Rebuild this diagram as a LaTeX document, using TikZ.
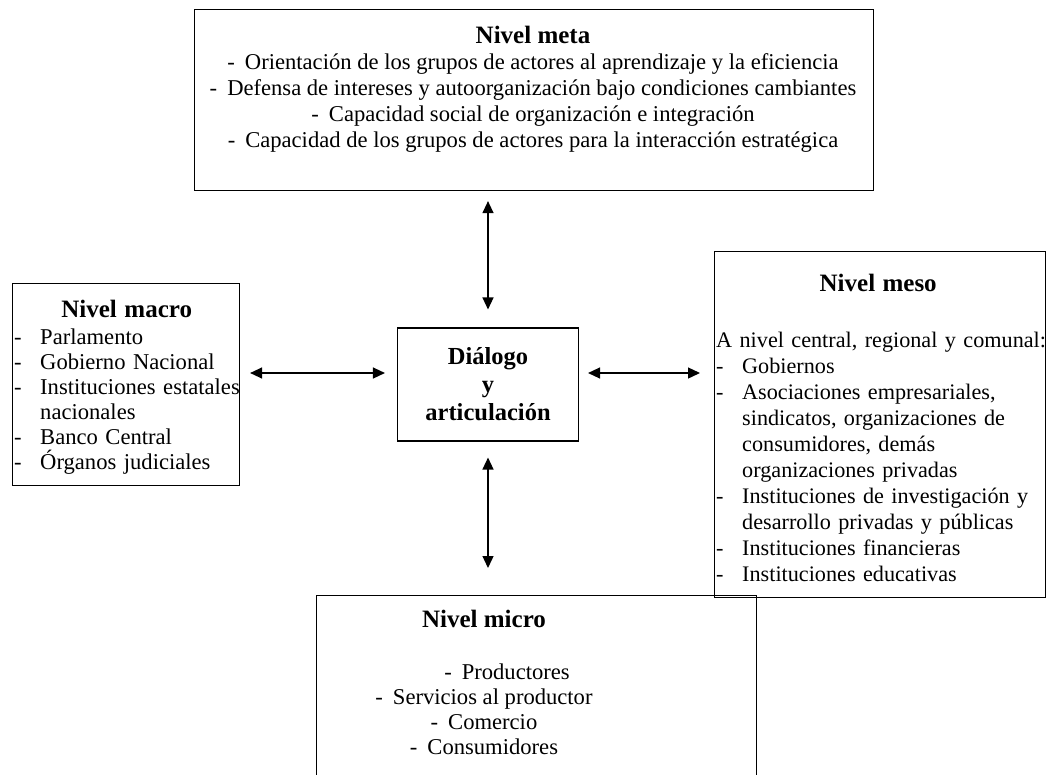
\documentclass[tikz,border=0pt]{standalone}
\usepackage{fontspec}
\setmainfont{Liberation Serif}
\usetikzlibrary{arrows.meta}

\newcommand{\titulo}[1]{{\fontsize{25}{26}\selectfont\bfseries #1}}
\newcommand{\guion}[1]{\makebox[26pt][l]{-}\mbox{#1}}
\newcommand{\sigue}[1]{\hspace*{26pt}\mbox{#1}}
\newcommand{\linea}[1]{-\hspace{10pt}#1}

\begin{document}
\begin{tikzpicture}[
    x=1pt, y=-1pt,
    box/.style={draw, line width=1.1pt, inner sep=0pt, anchor=north west},
    txt/.style={inner sep=0pt, font=\fontsize{22.6}{26}\selectfont},
    arrow/.style={{Triangle[length=12pt,width=11pt]}-{Triangle[length=12pt,width=11pt]}, line width=1.3pt}
]
\useasboundingbox (0,0) rectangle (1046,774);

% --- Blocks ---
\node[box, minimum width=679pt, minimum height=181pt] (meta) at (194,9) {};
\node[txt, anchor=north, align=center] (metatxt) at (533,26) {\titulo{Nivel meta}\\
\linea{Orientación de los grupos de actores al aprendizaje y la eficiencia}\\
\linea{Defensa de intereses y autoorganización bajo condiciones cambiantes}\\
\linea{Capacidad social de organización e integración}\\
\linea{Capacidad de los grupos de actores para la interacción estratégica}};

\node[box, minimum width=227pt, minimum height=202pt] (macro) at (12,283) {};
\node[txt, anchor=north west, text width=225pt, align=left,
      font=\fontsize{22.6}{25}\selectfont] (macrotxt) at (14,300) {\makebox[\hsize]{\titulo{Nivel macro}}\\[2pt]
\guion{Parlamento}\\
\guion{Gobierno Nacional}\\
\guion{Instituciones estatales}\\
\sigue{nacionales}\\
\guion{Banco Central}\\
\guion{Órganos judiciales}};

\node[draw, line width=1.1pt, minimum width=181pt, minimum height=113pt, align=center,
      font=\fontsize{24.5}{28}\selectfont\bfseries] (dial) at (488,384.5) {Diálogo\\ y\\ articulación};

\node[box, minimum width=331pt, minimum height=346pt] (meso) at (714,251) {};
\node[txt, anchor=north west, text width=324pt, align=left,
      font=\fontsize{22.2}{26}\selectfont] (mesotxt) at (716,274) {\makebox[\hsize]{\titulo{Nivel meso}}\\[30pt]
\mbox{A nivel central, regional y comunal:}\\
\guion{Gobiernos}\\
\guion{Asociaciones empresariales,}\\
\sigue{sindicatos, organizaciones de}\\
\sigue{consumidores, demás}\\
\sigue{organizaciones privadas}\\
\guion{Instituciones de investigación y}\\
\sigue{desarrollo privadas y públicas}\\
\guion{Instituciones financieras}\\
\guion{Instituciones educativas}};

\node[box, minimum width=440pt, minimum height=220pt] (micro) at (316,595) {};
\node[txt, anchor=north, align=center,
      font=\fontsize{22.6}{25}\selectfont] (microtxt) at (484,610) {\titulo{Nivel micro}\\[27pt]
\hspace*{46pt}\linea{Productores}\\
\linea{Servicios al productor}\\
\linea{Comercio}\\
\linea{Consumidores}};

% --- Arrows ---
\coordinate (fila) at ([yshift=11.5pt]dial.west);
\draw[arrow, shorten <=10pt, shorten >=18pt] (dial.north |- meta.south) -- (dial.north);
\draw[arrow, shorten <=16pt, shorten >=27pt] (dial.south) -- (dial.south |- micro.north);
\draw[arrow, shorten <=10pt, shorten >=12pt] (fila -| macro.east) -- (fila);
\draw[arrow, shorten <=9pt, shorten >=14pt] (fila -| dial.east) -- (fila -| meso.west);

\end{tikzpicture}
\end{document}
